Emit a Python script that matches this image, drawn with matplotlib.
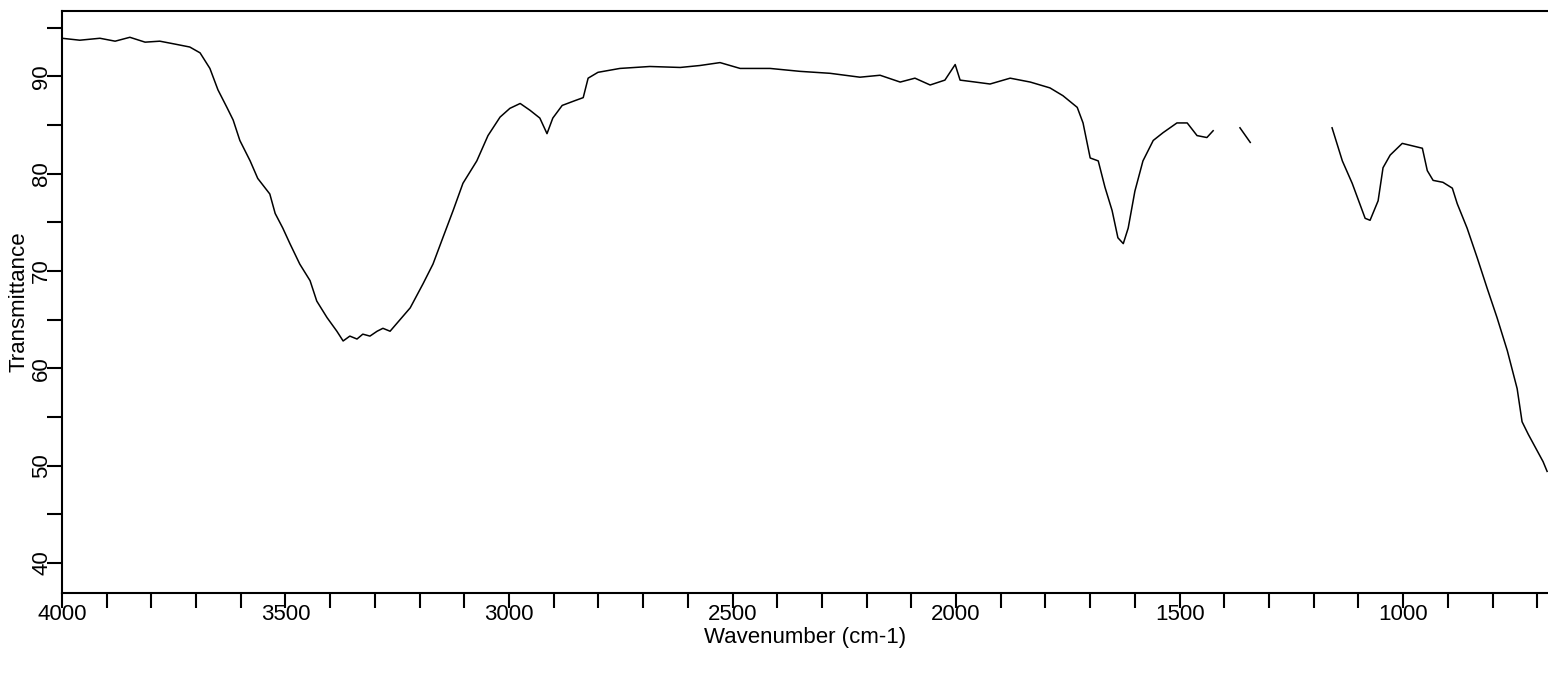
import numpy as np
import matplotlib.pyplot as plt
from matplotlib.ticker import MultipleLocator

# wavenumber (cm-1) and transmittance
# nan marks the places where the trace has faded out in the scan
wavenumber = [
    4000, 3960, 3915, 3881, 3848, 3814, 3781, 3747, 3714, 3691,
    3669, 3651, 3631, 3617, 3602, 3579, 3562, 3535, 3523, 3506,
    3490, 3468, 3445, 3430, 3407, 3385, 3371, 3356, 3340, 3327,
    3311, 3295, 3282, 3266, 3251, 3221, 3192, 3170, 3148, 3125,
    3103, 3072, 3047, 3020, 2998, 2975, 2953, 2931, 2915, 2902,
    2881, 2852, 2834, 2823, 2801, 2752, 2685, 2617, 2573, 2528,
    2483, 2416, 2349, 2282, 2215, 2170, 2125, 2092, 2058, 2025,
    2002, 1991, 1957, 1924, 1879, 1834, 1790, 1761, 1729, 1716,
    1700, 1682, 1667, 1651, 1638, 1626, 1615, 1600, 1582, 1559,
    1537, 1506, 1483, 1461, 1439, 1425, np.nan, 1365, 1342, np.nan,
    1159, 1136, 1114, 1085, 1074, 1056, 1045, 1029, 1002, 984,
    957, 946, 933, 911, 890, 879, 857, 834, 812, 790,
    767, 745, 734, 720, 687, 678,
]
transmittance = [
    93.9, 93.7, 93.9, 93.6, 94.0, 93.5, 93.6, 93.3, 93.0, 92.4,
    90.8, 88.6, 86.8, 85.5, 83.4, 81.3, 79.5, 77.9, 75.9, 74.4,
    72.8, 70.7, 69.0, 66.9, 65.2, 63.8, 62.8, 63.3, 63.0, 63.5,
    63.3, 63.8, 64.1, 63.8, 64.6, 66.2, 68.7, 70.7, 73.4, 76.2,
    79.0, 81.3, 83.9, 85.8, 86.7, 87.2, 86.5, 85.7, 84.1, 85.7,
    87.0, 87.5, 87.8, 89.8, 90.4, 90.8, 91.0, 90.9, 91.1, 91.4,
    90.8, 90.8, 90.5, 90.3, 89.9, 90.1, 89.4, 89.8, 89.1, 89.6,
    91.2, 89.6, 89.4, 89.2, 89.8, 89.4, 88.8, 88.0, 86.8, 85.2,
    81.6, 81.3, 78.6, 76.2, 73.4, 72.8, 74.4, 78.2, 81.3, 83.4,
    84.2, 85.2, 85.2, 83.9, 83.7, 84.4, np.nan, 84.7, 83.2, np.nan,
    84.7, 81.3, 79.0, 75.4, 75.2, 77.2, 80.6, 81.9, 83.1, 82.9,
    82.6, 80.3, 79.3, 79.1, 78.5, 76.9, 74.4, 71.3, 68.2, 65.2,
    61.8, 57.9, 54.5, 53.2, 50.4, 49.4,
]

x_ticks = [4000, 3500, 3000, 2500, 2000, 1500, 1000]
y_ticks = [40, 50, 60, 70, 80, 90]

plt.rcParams["font.family"] = ["Liberation Sans", "DejaVu Sans"]

fig = plt.figure(figsize=(15.48, 6.88), dpi=100)
ax = fig.add_axes([0.040, 0.138, 0.960, 0.846])

ax.plot(wavenumber, transmittance, color="black", linewidth=1.1)

ax.set_xlim(4000, 676)
ax.set_ylim(36.9, 96.7)

ax.set_xticks(x_ticks)
ax.set_yticks(y_ticks)
ax.xaxis.set_minor_locator(MultipleLocator(100))
ax.yaxis.set_minor_locator(MultipleLocator(5))

ax.tick_params(axis="both", which="both", direction="out",
               length=11, width=1.5, color="black")
ax.tick_params(axis="x", labelsize=16, pad=-3)
ax.tick_params(axis="y", labelsize=16, pad=-4, labelrotation=90)
for lbl in ax.get_yticklabels():
    lbl.set_va("center")

ax.spines["right"].set_visible(False)
for side in ["left", "bottom", "top"]:
    ax.spines[side].set_linewidth(1.5)

ax.set_xlabel("Wavenumber (cm-1)", fontsize=16, labelpad=1)
ax.set_ylabel("Transmittance", fontsize=16, labelpad=1)

plt.savefig("out.png", dpi=100)
plt.close()
